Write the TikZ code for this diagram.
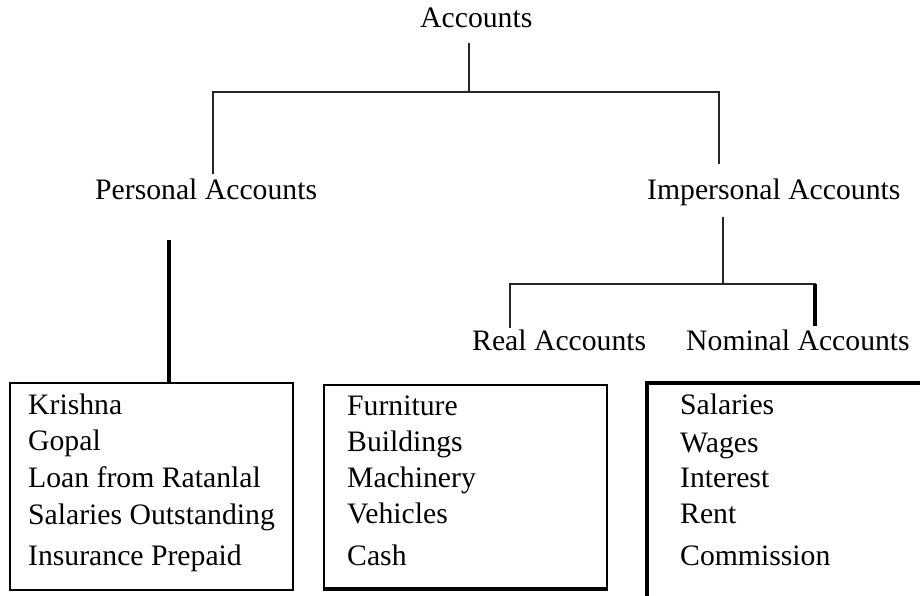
\documentclass[tikz,border=0pt]{standalone}
\usepackage{fontspec}
\setmainfont{Liberation Serif}
\begin{document}
\begin{tikzpicture}[x=1pt,y=-1pt,
  lbl/.style={inner sep=0pt, anchor=base west, font=\fontsize{29.7}{36}\selectfont},
  branch/.style={line width=1.8pt, draw=black!85, line cap=rect},
  heavy/.style={line width=3.2pt, draw=black},
  listbox/.style={draw, rectangle, inner sep=0pt, line width=2.6pt}]
\clip (0,0) rectangle (920,595);
\fill[white] (0,0) rectangle (920,595);

% ---- headings ----
\node[lbl] (acc)   at (420,27)  {Accounts};
\node[lbl] (pers)  at (95,199)  {Personal Accounts};
\node[lbl] (imp)   at (647,199) {Impersonal Accounts};
\node[lbl] (real)  at (472,350) {Real Accounts};
\node[lbl] (nom)   at (686,350) {Nominal Accounts};

% ---- junction points ----
\coordinate (accTop) at (469,44);
\coordinate (accJ)   at (469,92);
\coordinate (pJ)     at (213,92);
\coordinate (pEnd)   at (213,173);
\coordinate (iJ)     at (719,92);
\coordinate (iEnd)   at (719,163);
\coordinate (impTop) at (723,218);
\coordinate (impJ)   at (723,284);
\coordinate (rJ)     at (510,284);
\coordinate (rEnd)   at (510,327);
\coordinate (nJ)     at (815,284);
\coordinate (nEnd)   at (815,326);
\coordinate (pStem)  at (169,240);

% ---- boxes ----
\node[listbox, minimum width=283pt, minimum height=207pt] (pbox) at (151.5,486.5) {};
\node[listbox, line width=2.2pt, minimum width=283pt, minimum height=203pt] (rbox) at (465.5,486.5) {};
\draw[line width=2.6pt] ([yshift=-0.6pt]rbox.south west) -- ([yshift=-0.6pt]rbox.south east);
\node[listbox, line width=3.2pt, minimum width=290pt, minimum height=230pt] (nbox) at (792,498) {};

% ---- tree lines ----
\draw[branch] (accTop) -- (accJ);
\draw[branch] (pJ) -- (iJ);
\draw[branch] (pJ) -- (pEnd);
\draw[branch] (iJ) -- (iEnd);
\draw[branch] (impTop) -- (impJ);
\draw[branch] (rJ) -- (nJ);
\draw[branch] (rJ) -- (rEnd);
\draw[heavy]  (nJ) -- (nEnd);
\draw[heavy]  (pStem) -- (pStem |- pbox.north);

% ---- personal accounts list ----
\node[lbl] (k1) at (28,414) {Krishna};
\node[lbl] (k2) at (28,450) {Gopal};
\node[lbl] (k3) at (28,487) {Loan from Ratanlal};
\node[lbl] (k4) at (28,524) {Salaries Outstanding};
\node[lbl] (k5) at (28,565) {Insurance Prepaid};

% ---- real accounts list ----
\node[lbl] (r1) at (347,415) {Furniture};
\node[lbl] (r2) at (347,451) {Buildings};
\node[lbl] (r3) at (347,487) {Machinery};
\node[lbl] (r4) at (347,523) {Vehicles};
\node[lbl] (r5) at (347,565) {Cash};

% ---- nominal accounts list ----
\node[lbl] (n1) at (680,414) {Salaries};
\node[lbl] (n2) at (680,452) {Wages};
\node[lbl] (n3) at (680,487) {Interest};
\node[lbl] (n4) at (680,523) {Rent};
\node[lbl] (n5) at (680,565) {Commission};
\end{tikzpicture}
\end{document}
